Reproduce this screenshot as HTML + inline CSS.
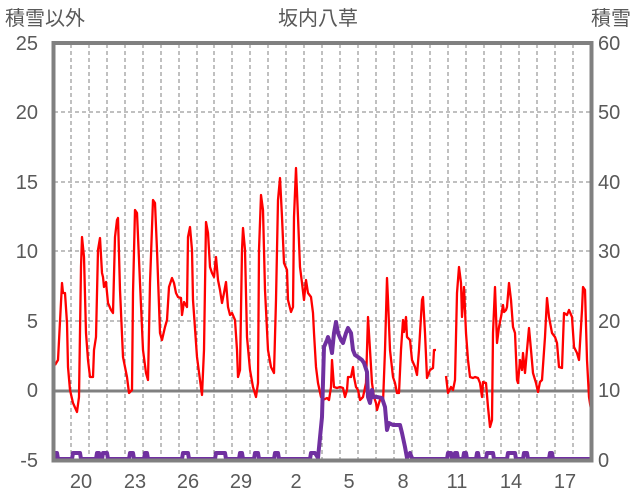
<!DOCTYPE html>
<html><head><meta charset="utf-8"><style>
html,body{margin:0;padding:0;background:#fff;}
svg{display:block;}
text{font-family:"Liberation Sans","Noto Sans CJK JP",sans-serif;fill:#595959;font-size:20px;}
</style></head><body>
<svg width="636" height="501" viewBox="0 0 636 501" xmlns="http://www.w3.org/2000/svg">
<rect width="636" height="501" fill="#fff"/>
<g stroke="#808080" stroke-width="1" stroke-dasharray="4,3" fill="none">
<path d="M54 112H591M54 182H591M54 251H591M54 321H591"/>
<path d="M71 44V460M89 44V460M107 44V460M125 44V460M143 44V460M161 44V460M179 44V460M197 44V460M214 44V460M232 44V460M250 44V460M268 44V460M286 44V460M304 44V460M322 44V460M340 44V460M358 44V460M376 44V460M394 44V460M412 44V460M430 44V460M448 44V460M466 44V460M484 44V460M501 44V460M519 44V460M537 44V460M555 44V460M573 44V460"/>
</g>
<path d="M54 391H591" stroke="#808080" stroke-width="3"/>
<g fill="none" stroke="#FF0000" stroke-width="2.3" stroke-linejoin="round">
<polyline points="55,365 58,360 62,283 63,293 65,293 67,323 68,367 70,390 73,403 77,412 79,397 81,267 82,237 84,257 86,333 88,360 90,377 93,377 94,350 96,337 98,250 100,238 102,273 103,277 104,287 106,282 108,303 111,310 113,313 115,237 117,220 118,218 120,290 123,357 127,377 129,393 132,390 133,293 135,210 137,213 140,283 143,350 146,373 148,380 150,283 153,200 155,203 157,250 160,333 162,340 165,327 167,320 169,287 172,278 174,283 176,293 178,297 181,298 182,315 184,302 187,307 188,237 190,227 192,250 193,300 197,357 200,380 202,395 204,350 206,222 208,233 210,267 212,273 214,277 216,257 218,280 220,290 222,303 224,293 226,282 228,307 230,315 232,313 235,320 237,350 238,377 240,370 242,250 243,228 245,250 247,337 250,370 253,387 256,397 258,383 259,250 261,195 263,210 265,290 268,350 271,367 274,373 276,300 278,200 280,178 282,217 284,263 287,270 288,300 291,312 293,307 294,217 296,168 298,217 300,267 302,283 304,300 306,280 308,293 311,297 313,313 314,333 316,367 318,383 321,397 323,400 327,398 329,400 331,387 332,360 334,387 337,388 340,387 343,388 345,397 347,390 348,377 351,377 353,367 354,377 356,387 358,390 360,400 363,397 366,383 368,317 370,350 372,383 374,397 376,403 377,410 379,403 381,397 383,403 385,350 387,278 388,300 390,350 393,377 395,383 397,393 399,393 401,350 403,320 404,332 406,317 407,337 410,340 412,360 415,367 417,375 419,350 422,300 423,297 425,333 427,378 430,370 433,368 434,350 436,350"/>
<polyline points="446,376 448,393 451,387 453,390 455,380 457,293 459,267 461,283 462,317 464,287 466,333 468,360 470,377 473,378 475,377 478,378 480,383 482,397 483,382 486,383 488,407 490,427 492,420 493,333 495,287 497,343 499,327 501,317 503,305 504,312 506,310 507,307 509,283 511,300 513,327 515,333 517,380 518,383 520,360 522,370 523,353 525,373 527,350 529,328 531,350 533,373 536,383 538,392 540,382 542,380 545,337 547,298 549,317 552,333 555,337 557,343 559,367 562,368 564,313 567,315 569,310 572,317 574,347 577,353 579,360 582,310 583,287 585,290 587,360 589,397 591,410"/>
</g>
<g fill="none" stroke="#7030A0" stroke-width="4" stroke-linejoin="round">
<polyline points="54,459 55,453 57,453 58,459 72,459 73,453 80,453 81,459 96,459 97,453 99,453 100,459 102,459 103,453 107,453 108,459 129,459 130,453 133,453 134,459 144,459 145,453 147,453 148,459 182,459 183,453 188,453 189,459 215,459 216,453 225,453 226,459 239,459 240,453 242,453 243,459 254,459 255,453 258,453 259,459 274,459 275,453 278,453 279,459 310,459 311,453 313,453 315,453 318,458 322,417 324,347 327,340 328,337 330,343 332,353 334,333 336,322 338,333 341,340 343,343 346,333 348,328 351,333 353,350 355,355 358,357 362,360 364,363 367,372 368,397 370,403 372,390 373,397 377,397 382,398 385,407 387,430 389,423 393,425 400,425 402,433 405,447 407,458 410,453 412,458 413,459 447,459 448,453 451,453 452,459 454,459 455,453 457,453 458,459 463,459 464,453 466,453 467,459 476,459 477,453 478,453 479,459 486,459 487,453 493,453 494,459 507,459 508,453 515,453 516,459 523,459 524,453 527,453 528,459 549,459 550,453 552,453 553,459 591,459"/>
</g>
<rect x="53.5" y="43" width="538" height="417.5" fill="none" stroke="#808080" stroke-width="4"/>
<text x="5" y="25">積雪以外</text>
<text x="318" y="25" text-anchor="middle">坂内八草</text>
<text x="631" y="25" text-anchor="end">積雪</text>
<g text-anchor="end">
<text x="38" y="50">25</text><text x="38" y="119">20</text><text x="38" y="189">15</text><text x="38" y="258">10</text><text x="38" y="328">5</text><text x="38" y="397">0</text><text x="38" y="467">-5</text>
</g>
<g>
<text x="598" y="50">60</text><text x="598" y="119">50</text><text x="598" y="189">40</text><text x="598" y="258">30</text><text x="598" y="328">20</text><text x="598" y="397">10</text><text x="598" y="467">0</text>
</g>
<g text-anchor="middle">
<text x="81" y="488">20</text><text x="135" y="488">23</text><text x="188" y="488">26</text><text x="241" y="488">29</text><text x="296" y="488">2</text><text x="349" y="488">5</text><text x="403" y="488">8</text><text x="457" y="488">11</text><text x="511" y="488">14</text><text x="565" y="488">17</text>
</g>
</svg>
</body></html>
